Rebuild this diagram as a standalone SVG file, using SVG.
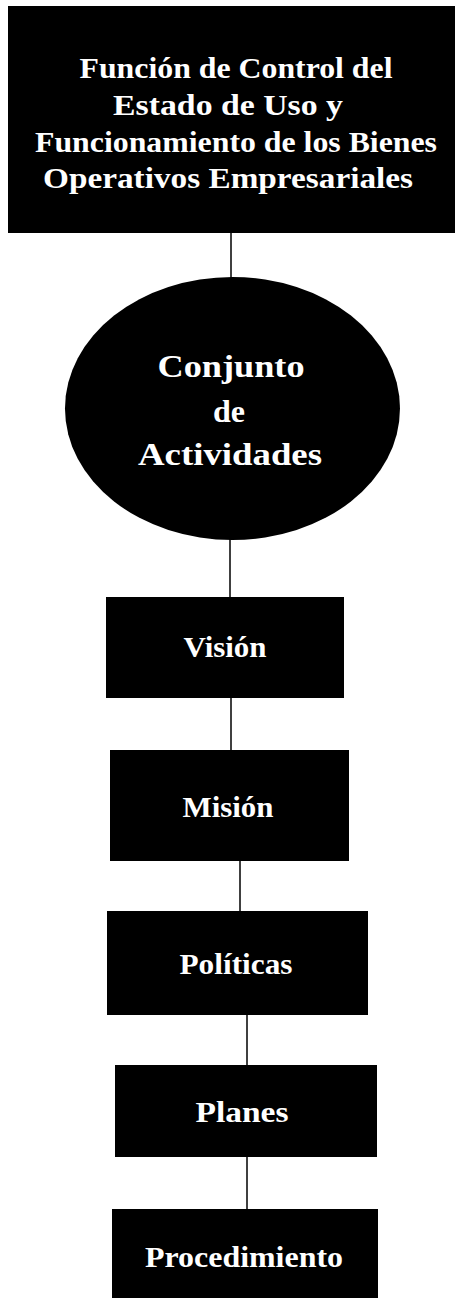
<svg xmlns="http://www.w3.org/2000/svg" width="456" height="1301" viewBox="0 0 456 1301">
<style>
.box{fill:#000;}
.t{font-family:"Liberation Serif","Times New Roman",serif;font-weight:bold;font-size:30px;fill:#fff;text-anchor:middle;}
.t2{font-size:32px;}
.c{stroke:#000;stroke-width:1.5;fill:none;}
</style>
<rect width="456" height="1301" fill="#fff"/>
<g id="connectors">
<line class="c" x1="231" y1="233" x2="231" y2="278"/>
<line class="c" x1="230" y1="539" x2="230" y2="598"/>
<line class="c" x1="231" y1="697" x2="231" y2="751"/>
<line class="c" x1="240" y1="860" x2="240" y2="912"/>
<line class="c" x1="247" y1="1014" x2="247" y2="1066"/>
<line class="c" x1="247" y1="1156" x2="247" y2="1210"/>
</g>
<g id="node-funcion">
<rect class="box" x="8" y="6" width="447" height="227"/>
<text class="t" x="236" y="78" textLength="313" lengthAdjust="spacingAndGlyphs">Función de Control del</text>
<text class="t" x="228" y="115" textLength="230" lengthAdjust="spacingAndGlyphs">Estado de Uso y</text>
<text class="t" x="236" y="152" textLength="402" lengthAdjust="spacingAndGlyphs">Funcionamiento de los Bienes</text>
<text class="t" x="228" y="188" textLength="370" lengthAdjust="spacingAndGlyphs">Operativos Empresariales</text>
</g>
<g id="node-conjunto">
<ellipse class="box" cx="232.5" cy="408.5" rx="167.5" ry="131.5"/>
<text class="t t2" x="231" y="377" textLength="147" lengthAdjust="spacingAndGlyphs">Conjunto</text>
<text class="t t2" x="229" y="422">de</text>
<text class="t t2" x="230" y="465" textLength="184" lengthAdjust="spacingAndGlyphs">Actividades</text>
</g>
<g id="node-vision">
<rect class="box" x="106" y="597" width="238" height="101"/>
<text class="t" x="225" y="657" textLength="83" lengthAdjust="spacingAndGlyphs">Visión</text>
</g>
<g id="node-mision">
<rect class="box" x="110" y="750" width="239" height="111"/>
<text class="t" x="228" y="817" textLength="91" lengthAdjust="spacingAndGlyphs">Misión</text>
</g>
<g id="node-politicas">
<rect class="box" x="107" y="911" width="261" height="104"/>
<text class="t" x="236" y="974" textLength="113" lengthAdjust="spacingAndGlyphs">Políticas</text>
</g>
<g id="node-planes">
<rect class="box" x="115" y="1065" width="262" height="92"/>
<text class="t" x="242" y="1122" textLength="93" lengthAdjust="spacingAndGlyphs">Planes</text>
</g>
<g id="node-procedimiento">
<rect class="box" x="112" y="1209" width="266" height="89"/>
<text class="t" x="244" y="1267" textLength="198" lengthAdjust="spacingAndGlyphs">Procedimiento</text>
</g>
</svg>
